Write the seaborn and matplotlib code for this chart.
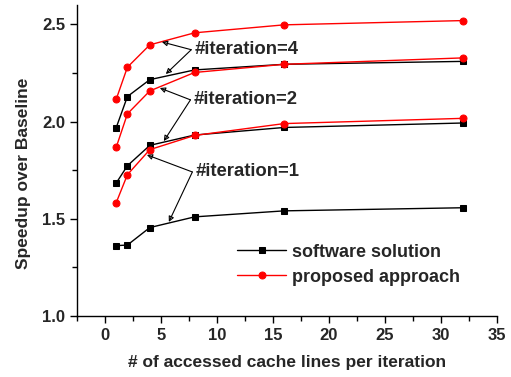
import seaborn as sns
import matplotlib.pyplot as plt
import numpy as np

# accessed cache lines per iteration
lines_per_iter = [1, 2, 4, 8, 16, 32]

# speedup over baseline, per #iteration
software_it1 = [1.362, 1.365, 1.455, 1.510, 1.541, 1.557]
software_it2 = [1.684, 1.773, 1.878, 1.931, 1.970, 1.993]
software_it4 = [1.969, 2.129, 2.216, 2.266, 2.295, 2.310]
proposed_it1 = [1.583, 1.727, 1.856, 1.929, 1.990, 2.017]
proposed_it2 = [1.868, 2.040, 2.158, 2.253, 2.295, 2.328]
proposed_it4 = [2.115, 2.280, 2.395, 2.457, 2.498, 2.520]

sns.set_style('ticks')
plt.rcParams['font.family'] = ['Liberation Sans', 'DejaVu Sans']
plt.rcParams['font.weight'] = 'bold'

fig = plt.figure(figsize=(5.11, 3.77), dpi=100)
ax = fig.add_axes([0.1507, 0.1618, 0.8219, 0.8249])

soft_kw = dict(color='black', marker='s', markersize=4.5, linewidth=1,
               markeredgecolor='black')
prop_kw = dict(color='red', marker='o', markersize=5, linewidth=1,
               markeredgecolor='red')

sns.lineplot(x=lines_per_iter, y=software_it1, ax=ax, label='software solution', **soft_kw)
sns.lineplot(x=lines_per_iter, y=software_it2, ax=ax, **soft_kw)
sns.lineplot(x=lines_per_iter, y=software_it4, ax=ax, **soft_kw)
sns.lineplot(x=lines_per_iter, y=proposed_it1, ax=ax, label='proposed approach', **prop_kw)
sns.lineplot(x=lines_per_iter, y=proposed_it2, ax=ax, **prop_kw)
sns.lineplot(x=lines_per_iter, y=proposed_it4, ax=ax, **prop_kw)

ax.set_xlim(-2.5, 35)
ax.set_ylim(1.0, 2.6)
ax.set_xticks(np.arange(0, 36, 5))
ax.set_xticks(np.arange(-2.5, 35.1, 2.5), minor=True)
ax.set_yticks([1.0, 1.5, 2.0, 2.5])
ax.set_yticks(np.arange(1.0, 2.6, 0.25), minor=True)
ax.tick_params(which='major', length=5, width=1, labelsize=12, color='black')
ax.tick_params(which='minor', length=3.5, width=1, color='black', bottom=True, left=True)
for lab in ax.get_xticklabels() + ax.get_yticklabels():
    lab.set_fontweight('bold')
for s in ax.spines.values():
    s.set_linewidth(1)
    s.set_color('black')
sns.despine(ax=ax)

ax.set_xlabel('# of accessed cache lines per iteration', fontsize=12.5, fontweight='bold', labelpad=9)
ax.set_ylabel('Speedup over Baseline', fontsize=12.5, fontweight='bold')
ax.yaxis.set_label_coords(-0.11, 0.46)

# annotations with two arrows each
arrow = dict(arrowstyle='-|>', color='black', lw=0.8, shrinkA=0, shrinkB=0,
             mutation_scale=8, fill=False)
notes = [
    ('#iteration=4', (8.0, 2.37), [(5.08, 2.41), (5.43, 2.245)]),
    ('#iteration=2', (7.93, 2.112), [(4.9, 2.173), (5.25, 1.90)]),
    ('#iteration=1', (8.1, 1.741), [(3.74, 1.829), (5.7, 1.484)]),
]
for txt, pos, targets in notes:
    ax.text(pos[0], pos[1], txt, fontsize=13.3, fontweight='bold',
            ha='left', va='center')
    for t in targets:
        ax.annotate('', xy=t, xytext=(pos[0] - 0.3, pos[1]), arrowprops=arrow)

leg = ax.legend(loc='center left', bbox_to_anchor=(0.36, 0.165), frameon=False,
                fontsize=13, handlelength=2.7, handletextpad=0.35, labelspacing=0.45,
                borderpad=0)
for t in leg.get_texts():
    t.set_fontweight('bold')

fig.savefig('out.png', dpi=100)
